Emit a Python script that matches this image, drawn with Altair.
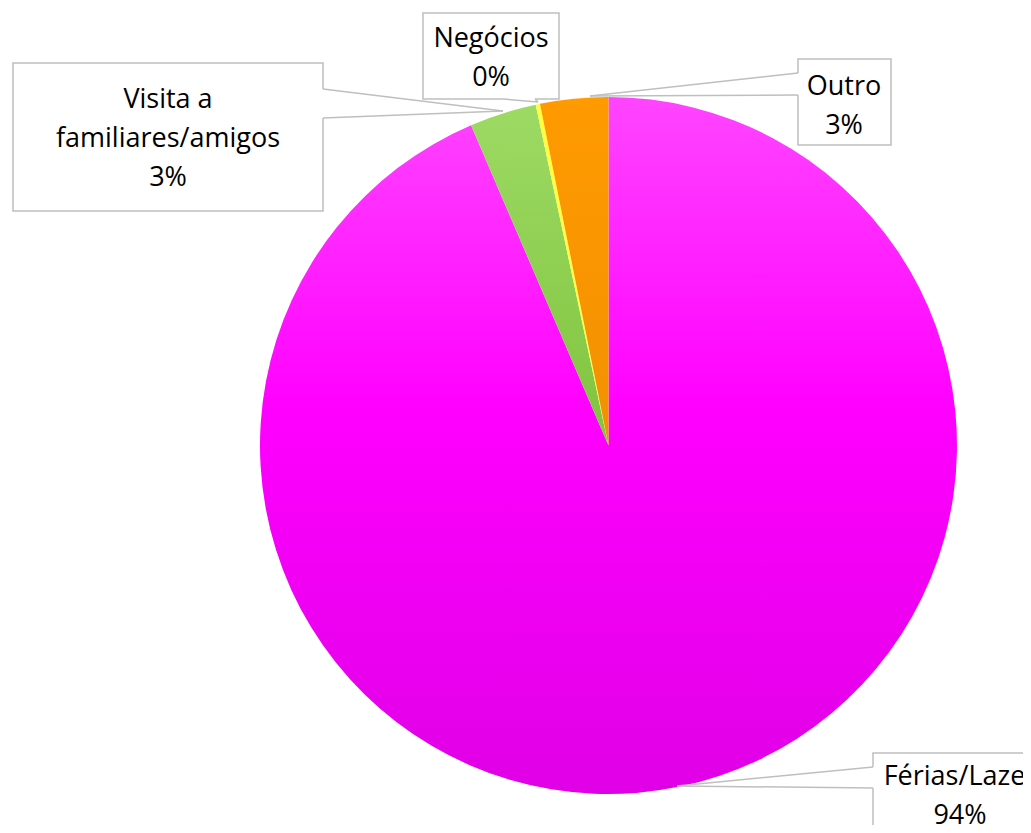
import altair as alt
import pandas as pd

# ---- data ----
categories = ["Férias/Lazer", "Visita a familiares/amigos", "Negócios", "Outro"]
values = [93.55, 3.1, 0.2, 3.15]
label_lines = ["Férias/Lazer", "Visita a\nfamiliares/amigos", "Negócios", "Outro"]
base_colors = ["#FF00FF", "#92D050", "#FFFF40", "#FF9900"]

df = pd.DataFrame({"cat": categories, "val": values, "idx": list(range(len(categories)))})

# ---- callout layout (chart pixel coords) ----
box_x = [865, 5, 415, 790]
box_x2 = [1045, 315, 551, 883]
box_y = [745, 55, 5, 51]
box_y2 = [838, 203, 91, 137]
base_x1 = [865, 315, 495, 790]
base_y1 = [759, 81, 91, 65]
base_x2 = [865, 315, 527, 790]
base_y2 = [780, 110, 91, 87]
tip_x = [669, 495, 530, 582]
tip_y = [778, 103, 94, 88]
text_x = [952, 160, 483, 836]
text_y = [777, 100, 39, 87]

total = sum(values)
lab = pd.DataFrame({
    "cat": categories,
    "text": [f"{l}\n{round(v / total * 100)}%" for l, v in zip(label_lines, values)],
    "bx": box_x, "bx2": box_x2, "by": box_y, "by2": box_y2,
    "ax1": base_x1, "ay1": base_y1, "ax2": base_x2, "ay2": base_y2,
    "tx": tip_x, "ty": tip_y, "lx": text_x, "ly": text_y,
})

CX, CY, R = 600.5, 437.5, 348.5

def lin(stops):
    return {"gradient": "linear", "x1": 0, "y1": 0, "x2": 0, "y2": 1,
            "stops": [{"offset": o, "color": c} for o, c in stops]}

grad_mag = lin([(0, "#FF45FF"), (0.45, "#FF00FF"), (1, "#E000E6")])
grad_green = lin([(0, "#9DDA64"), (1, "#80C33E")])
grad_orange = lin([(0, "#FF9A00"), (1, "#F29000")])

pie = alt.Chart(df).mark_arc(radius=R).encode(
    theta=alt.Theta("val:Q", stack=True),
    order=alt.Order("idx:Q"),
    fill=alt.Fill(
        "cat:N",
        scale=alt.Scale(domain=categories, range=base_colors),
        legend=None,
        condition=[
            {"test": "datum.cat === 'Férias/Lazer'", "value": grad_mag},
            {"test": "datum.cat === 'Visita a familiares/amigos'", "value": grad_green},
            {"test": "datum.cat === 'Outro'", "value": grad_orange},
        ],
    ),
    x=alt.value(CX),
    y=alt.value(CY),
)

lb = alt.Chart(lab)
gray = "#BFBFBF"

boxes = lb.mark_rect(fill="white", stroke=gray, strokeWidth=1.5).encode(
    x=alt.X("bx:Q", scale=None), x2="bx2:Q",
    y=alt.Y("by:Q", scale=None), y2="by2:Q",
)
gap = lb.mark_rule(color="white", strokeWidth=3).encode(
    x=alt.X("ax1:Q", scale=None), x2="ax2:Q",
    y=alt.Y("ay1:Q", scale=None), y2="ay2:Q",
)
lead1 = lb.mark_rule(color=gray, strokeWidth=1.5).encode(
    x=alt.X("ax1:Q", scale=None), x2="tx:Q",
    y=alt.Y("ay1:Q", scale=None), y2="ty:Q",
)
lead2 = lb.mark_rule(color=gray, strokeWidth=1.5).encode(
    x=alt.X("ax2:Q", scale=None), x2="tx:Q",
    y=alt.Y("ay2:Q", scale=None), y2="ty:Q",
)
texts = lb.mark_text(font="Open Sans", fontSize=27, lineBreak="\n", lineHeight=39,
                     align="center", baseline="alphabetic", color="#000000").encode(
    x=alt.X("lx:Q", scale=None),
    y=alt.Y("ly:Q", scale=None),
    text="text:N",
)

chart = alt.layer(pie, boxes, gap, lead1, lead2, texts).properties(
    width=1015, height=817, padding=0, autosize="none"
).configure_view(stroke=None)

chart.save("out.html", embed_options={"renderer": "svg", "actions": False})
